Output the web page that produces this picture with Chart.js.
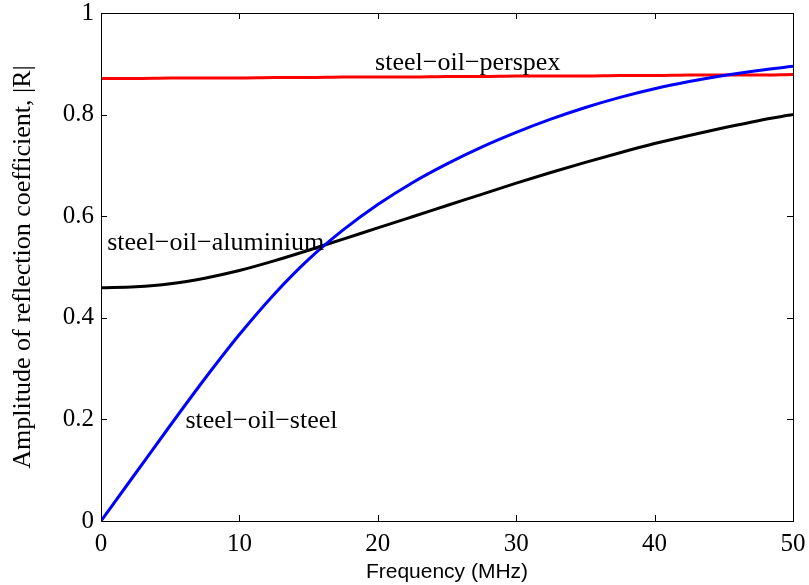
<!DOCTYPE html>
<html>
<head>
<meta charset="utf-8">
<script src="https://cdn.jsdelivr.net/npm/chart.js@4.4.1/dist/chart.umd.min.js"></script>
<style>
  html, body { margin: 0; padding: 0; background: #fff; }
  #wrap { width: 809px; height: 585px; }
</style>
</head>
<body>
<div id="wrap"><canvas id="reflChart" width="809" height="585"></canvas></div>
<script>
// frequency samples (MHz)
const freqMHz = [0, 2.5, 5, 7.5, 10, 12.5, 15, 17.5, 20, 22.5, 25, 27.5, 30, 32.5, 35, 37.5, 40, 42.5, 45, 47.5, 50];

// |R| for each layer combination
const steelOilSteel = [0, 0.094, 0.188, 0.28, 0.367, 0.446, 0.515, 0.573, 0.623, 0.666, 0.703, 0.736, 0.765, 0.791, 0.814, 0.834, 0.851, 0.865, 0.877, 0.887, 0.895];
const steelOilAluminium = [0.459, 0.461, 0.467, 0.478, 0.493, 0.512, 0.533, 0.555, 0.577, 0.599, 0.621, 0.643, 0.665, 0.686, 0.706, 0.725, 0.743, 0.759, 0.774, 0.788, 0.8];
const steelOilPerspex = [0.871, 0.871, 0.872, 0.872, 0.872, 0.873, 0.873, 0.874, 0.874, 0.874, 0.875, 0.875, 0.876, 0.876, 0.876, 0.877, 0.877, 0.878, 0.878, 0.878, 0.879];

const xTicks = [0, 10, 20, 30, 40, 50];
const yTicks = [0, 0.2, 0.4, 0.6, 0.8, 1];

// curve labels, placed in data coordinates
const curveLabels = [
  { text: "steel\u2212oil\u2212perspex", x: 26.5, y: 0.901, align: "center" },
  { text: "steel\u2212oil\u2212aluminium", x: 0.45, y: 0.547, align: "left" },
  { text: "steel\u2212oil\u2212steel", x: 6.1, y: 0.197, align: "left" }
];

const serif = '"Liberation Serif", "Times New Roman", serif';

function pts(ys) {
  return freqMHz.map((f, i) => ({ x: f, y: ys[i] }));
}

// box around the axes with inward ticks, plus the curve labels
const frameAndLabels = {
  id: "frameAndLabels",
  afterDraw(chart) {
    const { ctx, chartArea: a, scales } = chart;
    const xs = scales.x, ys = scales.y;
    ctx.save();
    ctx.strokeStyle = "#000";
    ctx.lineWidth = 1;
    ctx.strokeRect(a.left + 0.5, a.top + 0.5, a.right - a.left, a.bottom - a.top);
    const tl = 6;
    ctx.beginPath();
    xTicks.forEach((v) => {
      const px = Math.round(xs.getPixelForValue(v)) + 0.5;
      ctx.moveTo(px, a.bottom); ctx.lineTo(px, a.bottom - tl);
      ctx.moveTo(px, a.top); ctx.lineTo(px, a.top + tl);
    });
    yTicks.forEach((v) => {
      const py = Math.round(ys.getPixelForValue(v)) + 0.5;
      ctx.moveTo(a.left, py); ctx.lineTo(a.left + tl, py);
      ctx.moveTo(a.right, py); ctx.lineTo(a.right - tl, py);
    });
    ctx.stroke();

    ctx.fillStyle = "#000";
    ctx.font = "26px " + serif;
    ctx.textBaseline = "middle";
    curveLabels.forEach((l) => {
      ctx.textAlign = l.align;
      ctx.fillText(l.text, xs.getPixelForValue(l.x), ys.getPixelForValue(l.y));
    });
    ctx.restore();
  }
};

const ctx = document.getElementById("reflChart").getContext("2d");
const reflChart = new Chart(ctx, {
  type: "line",
  data: {
    datasets: [
      { label: "steel-oil-steel", data: pts(steelOilSteel), borderColor: "#0000ff" },
      { label: "steel-oil-aluminium", data: pts(steelOilAluminium), borderColor: "#000000" },
      { label: "steel-oil-perspex", data: pts(steelOilPerspex), borderColor: "#ff0000" }
    ]
  },
  options: {
    responsive: false,
    animation: false,
    layout: { padding: { top: 13, right: 16, left: 0, bottom: 0 } },
    elements: {
      point: { radius: 0 },
      line: { borderWidth: 3, cubicInterpolationMode: "monotone", fill: false }
    },
    plugins: {
      legend: { display: false },
      tooltip: { enabled: false }
    },
    scales: {
      x: {
        type: "linear",
        min: 0,
        max: 50,
        afterBuildTicks: (axis) => { axis.ticks = xTicks.map((v) => ({ value: v })); },
        afterFit: (axis) => {
          axis.height = 64;
          axis.paddingLeft = 0;
          axis.paddingRight = 0;
        },
        grid: { display: false, drawTicks: false },
        border: { display: false },
        ticks: { color: "#000", padding: 8, maxRotation: 0, font: { family: serif, size: 25 } },
        title: {
          display: true,
          text: "Frequency (MHz)",
          color: "#000",
          font: { family: '"Liberation Sans", Arial, sans-serif', size: 21 },
          padding: { top: 0, bottom: 0 }
        }
      },
      y: {
        type: "linear",
        min: 0,
        max: 1,
        afterBuildTicks: (axis) => { axis.ticks = yTicks.map((v) => ({ value: v })); },
        afterFit: (axis) => {
          axis.width = 101;
          axis.paddingTop = 0;
          axis.paddingBottom = 0;
        },
        grid: { display: false, drawTicks: false },
        border: { display: false },
        ticks: { color: "#000", padding: 7, font: { family: serif, size: 25 }, callback: (v) => String(Math.round(v * 10) / 10) },
        title: {
          display: true,
          text: "Amplitude of reflection coefficient, |R|",
          color: "#000",
          font: { family: serif, size: 26 },
          padding: { top: 8, bottom: 0 }
        }
      }
    }
  },
  plugins: [frameAndLabels]
});
</script>
</body>
</html>
